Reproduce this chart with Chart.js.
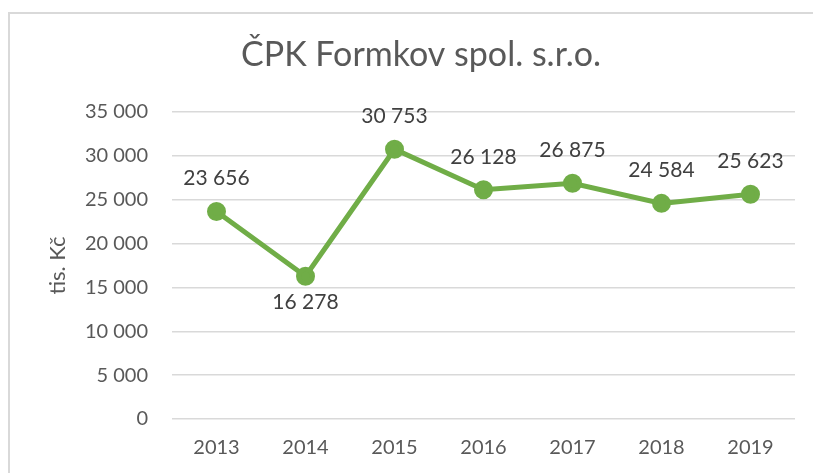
<!DOCTYPE html>
<html>
<head>
<meta charset="utf-8">
<script src="https://cdn.jsdelivr.net/npm/chart.js@4/dist/chart.umd.min.js"></script>
<style>
  html, body { margin: 0; padding: 0; background: #ffffff; }
  #wrap { width: 814px; height: 473px; position: relative; }
</style>
</head>
<body>
<div id="wrap"><canvas id="c" width="814" height="473"></canvas></div>
<script>
const chartTitle = 'ČPK Formkov spol. s.r.o.';
const yAxisTitle = 'tis. Kč';
const years = ['2013', '2014', '2015', '2016', '2017', '2018', '2019'];
const values = [23656, 16278, 30753, 26128, 26875, 24584, 25623];
const yTicks = [0, 5000, 10000, 15000, 20000, 25000, 30000, 35000];

const FONT = 'Lato, "Open Sans", sans-serif';
const fmt = v => String(Math.round(v)).replace(/\B(?=(\d{3})+(?!\d))/g, ' ');

const frame = {
  id: 'frame',
  beforeDraw(chart) {
    const ctx = chart.ctx;
    ctx.save();
    ctx.strokeStyle = '#d9d9d9';
    ctx.lineWidth = 2;
    ctx.beginPath();
    ctx.moveTo(9, chart.height + 2);
    ctx.lineTo(9, 13);
    ctx.lineTo(chart.width - 1, 13);
    ctx.stroke();
    // title
    ctx.font = '34px ' + FONT;
    ctx.fillStyle = '#595959';
    ctx.textAlign = 'center';
    ctx.textBaseline = 'alphabetic';
    ctx.fillText(chartTitle, 421, 66);
    ctx.restore();
  }
};

const dataLabels = {
  id: 'dataLabels',
  afterDatasetsDraw(chart) {
    const ctx = chart.ctx;
    const meta = chart.getDatasetMeta(0);
    const data = chart.data.datasets[0].data;
    const minVal = Math.min(...data);
    ctx.save();
    ctx.font = '21px ' + FONT;
    ctx.fillStyle = '#404040';
    ctx.textAlign = 'center';
    ctx.textBaseline = 'middle';
    meta.data.forEach((pt, i) => {
      const v = data[i];
      const y = v === minVal ? pt.y + 26 : pt.y - 33;
      ctx.fillText(fmt(v), pt.x, y);
    });
    ctx.restore();
  }
};

new Chart(document.getElementById('c'), {
  type: 'line',
  data: {
    labels: years,
    datasets: [{
      data: values,
      borderColor: '#70ad47',
      backgroundColor: '#70ad47',
      borderWidth: 5,
      pointRadius: 7,
      pointHoverRadius: 7,
      pointBackgroundColor: '#70ad47',
      pointBorderColor: '#70ad47',
      tension: 0,
      fill: false
    }]
  },
  options: {
    responsive: false,
    animation: false,
    devicePixelRatio: 1,
    layout: { padding: { left: 0, right: 19, top: 112, bottom: 0 } },
    plugins: {
      legend: { display: false },
      tooltip: { enabled: false },
      title: { display: false }
    },
    scales: {
      x: {
        offset: true,
        grid: { display: false, drawTicks: false },
        border: { display: false },
        ticks: {
          color: '#595959',
          font: { family: FONT, size: 20 },
          padding: 17,
          maxRotation: 0
        },
        afterFit(scale) { scale.height = 54; }
      },
      y: {
        min: 0,
        max: 35000,
        afterBuildTicks(scale) { scale.ticks = yTicks.map(v => ({ value: v })); },
        grid: { color: '#d9d9d9', lineWidth: 1.5, drawTicks: false },
        border: { display: false },
        ticks: {
          color: '#595959',
          font: { family: FONT, size: 20 },
          padding: 24,
          callback: v => fmt(v)
        },
        title: {
          display: true,
          text: yAxisTitle,
          color: '#595959',
          font: { family: FONT, size: 22, weight: 'normal' },
          padding: { top: 45, bottom: 0 }
        },
        afterFit(scale) { scale.width = 172; }
      }
    }
  },
  plugins: [frame, dataLabels]
});
</script>
</body>
</html>
